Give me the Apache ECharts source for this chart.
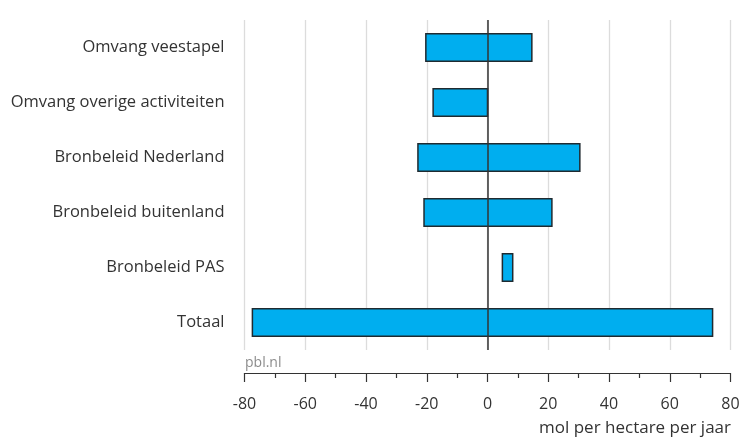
<!DOCTYPE html>
<html>
<head>
<meta charset="utf-8">
<script src="https://cdn.jsdelivr.net/npm/echarts@6/dist/echarts.min.js"></script>
<style>html,body{margin:0;padding:0;background:#fff}#c{width:739px;height:440px}</style>
</head>
<body>
<div id="c"></div>
<script>
const categories = ["Omvang veestapel", "Omvang overige activiteiten", "Bronbeleid Nederland", "Bronbeleid buitenland", "Bronbeleid PAS", "Totaal"];
const lowValues = [-20.3, -17.9, -22.9, -20.9, 4.9, -77.4];
const highValues = [14.6, 0, 30.4, 21.2, 8.3, 74.1];
const xTicks = [-80, -60, -40, -20, 0, 20, 40, 60, 80];
const axisTitle = "mol per hectare per jaar";
const sourceText = "pbl.nl";

const FONT = "'Open Sans', 'Noto Sans', sans-serif";
const data = categories.map((c, i) => [lowValues[i], highValues[i], i]);

const chart = echarts.init(document.getElementById('c'), null, {renderer: 'canvas'});
chart.setOption({
  animation: false,
  grid: {left: 244.5, right: 8.5, top: 20, bottom: 90, containLabel: false, outerBoundsMode: 'none'},
  title: [
    {text: axisTitle, right: 8, top: 420, padding: 0, textStyle: {fontFamily: FONT, fontSize: 17, fontWeight: 'normal', color: '#333'}},
    {text: sourceText, left: 245, top: 356, padding: 0, textStyle: {fontFamily: FONT, fontSize: 14, fontWeight: 'normal', color: '#8c8c8c'}}
  ],
  xAxis: {
    type: 'value', min: xTicks[0], max: xTicks[xTicks.length - 1], interval: 20,
    offset: 23,
    axisLine: {show: true, lineStyle: {color: '#333', width: 1.2}},
    axisTick: {show: true, length: 9, lineStyle: {color: '#333', width: 1.2}},
    minorTick: {show: true, splitNumber: 2, length: 5, lineStyle: {color: '#333', width: 1.2}},
    axisLabel: {fontFamily: FONT, fontSize: 16, color: '#333', margin: 23},
    splitLine: {show: true, lineStyle: {color: '#dcdcdc', width: 1.3}}
  },
  yAxis: {
    type: 'category', data: categories, inverse: true,
    axisLine: {show: false}, axisTick: {show: false},
    axisLabel: {fontFamily: FONT, fontSize: 16.5, color: '#333', margin: 20},
    splitLine: {show: false}
  },
  series: [
    {
      type: 'custom',
      encode: {x: [0, 1], y: 2},
      data: data,
      z: 2,
      renderItem: function (params, api) {
        const lo = api.value(0), hi = api.value(1), idx = api.value(2);
        const p0 = api.coord([lo, idx]);
        const p1 = api.coord([hi, idx]);
        const h = api.size([0, 1])[1] * 0.5;
        return {
          type: 'rect',
          shape: {x: p0[0], y: p0[1] - h / 2, width: p1[0] - p0[0], height: h},
          style: {fill: '#00aeef', stroke: '#1f2a30', lineWidth: 1.5}
        };
      }
    },
    {
      type: 'line', data: [], z: 10,
      markLine: {
        silent: true, symbol: 'none', label: {show: false},
        lineStyle: {color: '#333', width: 1.5, type: 'solid'},
        data: [{xAxis: 0}]
      }
    }
  ]
});
</script>
</body>
</html>
